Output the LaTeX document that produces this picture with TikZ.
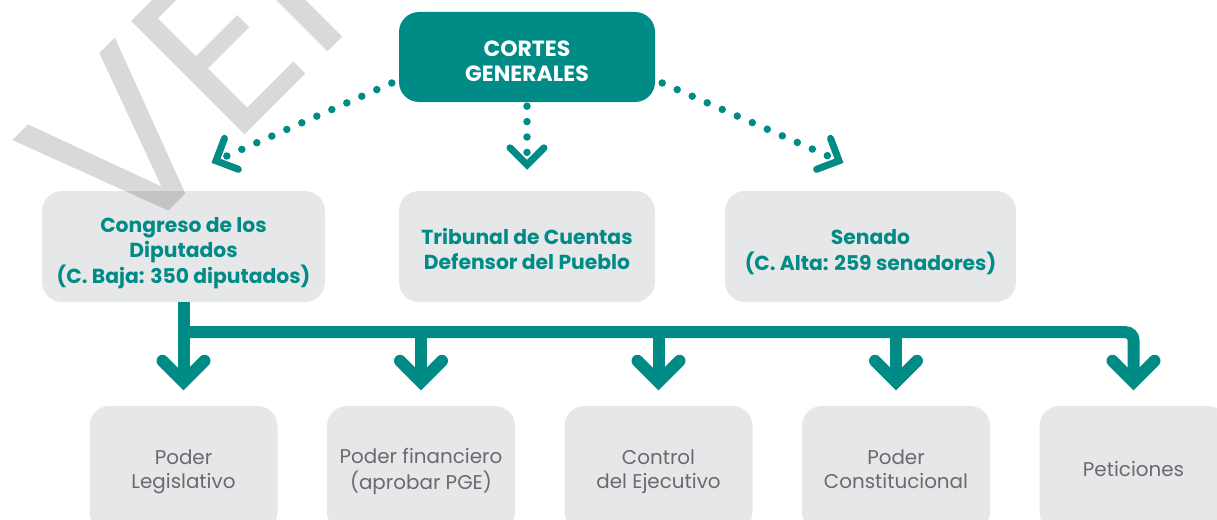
\documentclass[tikz,border=0pt]{standalone}
\usepackage{fontspec}
\setmainfont{Poppins}
\usetikzlibrary{calc}
\definecolor{tealc}{RGB}{0,139,135}
\definecolor{boxgray}{RGB}{230,231,232}
\definecolor{txtgray}{RGB}{105,106,109}
\newcommand\mytxt[2]{\raisebox{#1}[\height][\depth]{\begin{tabular}{@{}c@{}}#2\end{tabular}}}
\begin{document}
\begin{tikzpicture}[x=1pt,y=-1pt,
  topbox/.style={fill=tealc, rounded corners=20pt, minimum width=256pt, minimum height=90pt, text=white, font=\bfseries\fontsize{22}{25}\selectfont, inner sep=0pt},
  midbox/.style={fill=boxgray, rounded corners=20pt, minimum height=111pt, text=tealc, font=\bfseries\fontsize{20.3}{25}\selectfont, inner sep=0pt},
  lowbox/.style={fill=boxgray, rounded corners=20pt, minimum width=188pt, minimum height=126pt, text=txtgray, font=\fontsize{19.9}{24}\selectfont, inner sep=0pt},
  conn/.style={draw=tealc, line width=12pt},
  shead/.style={draw=tealc, line width=12pt, line cap=round, line join=miter},
  dots/.style={draw=tealc, line width=7.5pt, line cap=round, dash pattern=on 0pt off 16.4pt},
  dhead/.style={draw=tealc, line width=7pt, line cap=round, line join=miter},
  wmark/.style={rotate=45, anchor=base west, inner sep=0pt, text=black, text opacity=0.15, font=\fontsize{230}{230}\selectfont}
]
\useasboundingbox (0,0) rectangle (1217,519);
\clip (0,0) rectangle (1217,519);

% boxes
\node[topbox] (ct) at (527,57) {\mytxt{-7pt}{CORTES\\GENERALES}};
\node[midbox, minimum width=283pt] (cg) at (183.5,246.5) {\mytxt{-6.5pt}{Congreso de los\\Diputados\\(C. Baja: 350 diputados)}};
\node[midbox, minimum width=256pt] (tc) at (527,246.5) {\mytxt{-5pt}{Tribunal de Cuentas\\Defensor del Pueblo}};
\node[midbox, minimum width=291pt] (sn) at (870.5,246.5) {\mytxt{-6pt}{Senado\\(C. Alta: 259 senadores)}};

\node[lowbox] (l1) at (183.5,469) {\mytxt{-3pt}{Poder\\Legislativo}};
\node[lowbox] (l2) at (421,469) {\mytxt{-3pt}{Poder financiero\\(aprobar PGE)}};
\node[lowbox] (l3) at (658.5,469) {\mytxt{-3pt}{Control\\del Ejecutivo}};
\node[lowbox] (l4) at (896,469) {\mytxt{-3pt}{Poder\\Constitucional}};
\node[lowbox] (l5) at (1133.5,469) {\mytxt{-3pt}{Peticiones}};

% watermark
\node[wmark] (wm) at (122,258) {VER};

% solid connectors
\foreach \i in {1,...,5} \coordinate (v\i) at ([yshift=24pt]l\i.north);
\coordinate (bl) at ([shift={(0,30)}]cg.south);
\draw[conn] (cg.south) -- (v1);
\draw[conn, rounded corners=8pt] (bl) -- (bl -| v5) -- (v5);
\foreach \i in {2,3,4} \draw[conn] (bl -| v\i) -- (v\i);
\foreach \i in {1,...,5} \draw[shead] ([shift={(-21,-21)}]v\i) -- (v\i) -- ([shift={(21,-21)}]v\i);

% dotted connectors
\coordinate (ls) at ([shift={(-7,26)}]ct.west);
\coordinate (lv) at ([shift={(32.5,-30)}]cg.north);
\draw[dots] (ls) -- (lv);
\draw[dhead] ([shift={(8.5,-22.4)}]lv) -- (lv) -- ([shift={(22.4,8.5)}]lv);

\coordinate (ms) at ([shift={(0,4)}]ct.south);
\coordinate (mv) at ([shift={(0,-26)}]tc.north);
\draw[dots, dash pattern=on 0pt off 15.4pt] (ms) -- (mv);
\draw[dhead] ([shift={(-17,-17)}]mv) -- (mv) -- ([shift={(17,-17)}]mv);

\coordinate (rs) at ([shift={(7,26)}]ct.east);
\coordinate (rv) at ([shift={(-31.5,-30)}]sn.north);
\draw[dots] (rs) -- (rv);
\draw[dhead] ([shift={(-8.5,-22.4)}]rv) -- (rv) -- ([shift={(-22.4,8.5)}]rv);
\end{tikzpicture}
\end{document}
